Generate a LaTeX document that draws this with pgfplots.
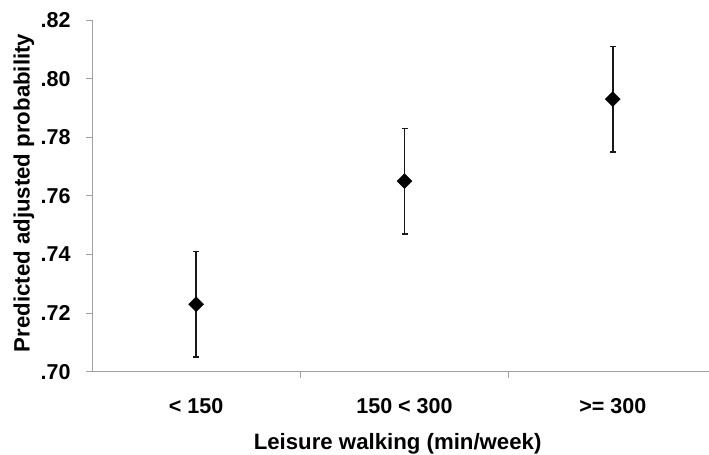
\documentclass[border=0pt]{standalone}
\usepackage{pgfplots}
\pgfplotsset{compat=1.18}
\usepackage{fontspec}
\setmainfont{Liberation Sans}
\definecolor{axgray}{RGB}{160,160,160}
\begin{document}
\begin{tikzpicture}
\useasboundingbox (-92bp,-83.3bp) rectangle (617bp,371.7bp);
\begin{axis}[
  scale only axis, width=625bp, height=351.7bp,
  xmin=0.5, xmax=3.5, ymin=0.70, ymax=0.82,
  axis x line*=bottom, axis y line*=left,
  axis line style={draw=axgray, line width=0.9bp},
  tick align=outside, major tick length=6bp,
  tick style={draw=axgray, line width=0.9bp},
  ytick={0.70,0.72,0.74,0.76,0.78,0.80,0.82},
  yticklabels={.70,.72,.74,.76,.78,.80,.82},
  xtick={1,2,3}, xticklabels={{< 150},{150 < 300},{>= 300}},
  x tick style={draw=none},
  extra x ticks={1.5,2.5}, extra x tick labels={},
  extra x tick style={x tick style={draw=axgray, line width=0.9bp}},
  tick label style={font=\bfseries\fontsize{21.6}{26}\selectfont, text=black},
  yticklabel shift=12bp,
  x tick label style={yshift=-17bp},
  ylabel={Predicted adjusted probability},
  xlabel={Leisure walking (min/week)},
  label style={font=\bfseries\fontsize{22.3}{27}\selectfont},
  ylabel style={at={(axis description cs:-0.109,0.508)}, rotate=0, anchor=center},
  xlabel style={at={(axis description cs:0.489,-0.2226)}, anchor=base},
]
\addplot+[only marks, mark=square*, mark size=5.3bp,
  mark options={rotate=45, fill=black, draw=black},
  error bars/.cd, y dir=both, y explicit,
  error bar style={line width=1.5bp, black!90},
  error mark=|,
  error mark options={mark size=3bp, line width=1.5bp, black!90}]
coordinates {
  (1,0.723) +- (0,0.018)
  (2,0.765) +- (0,0.018)
  (3,0.793) +- (0,0.018)
};
\end{axis}
\end{tikzpicture}
\end{document}
